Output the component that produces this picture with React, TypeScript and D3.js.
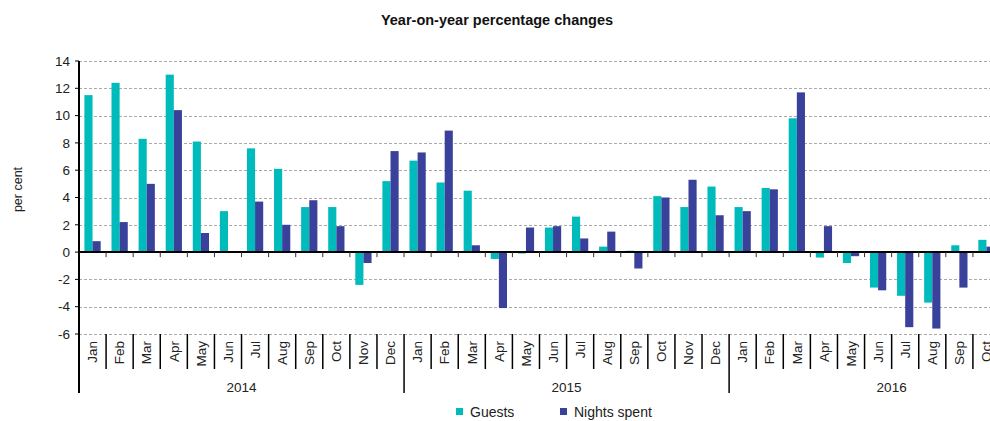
import * as d3 from "d3";
import { useEffect, useRef } from "react";

const months = ["Jan", "Feb", "Mar", "Apr", "May", "Jun", "Jul", "Aug", "Sep", "Oct", "Nov", "Dec"];
const years = ["2014", "2015", "2016"];
const categories = [
  ...months.map((m) => `${m} 2014`),
  ...months.map((m) => `${m} 2015`),
  ...months.slice(0, 10).map((m) => `${m} 2016`),
];
const guests = [
  11.5, 12.4, 8.3, 13.0, 8.1, 3.0, 7.6, 6.1, 3.3, 3.3, -2.4, 5.2,
  6.7, 5.1, 4.5, -0.5, -0.1, 1.8, 2.6, 0.4, 0.1, 4.1, 3.3, 4.8,
  3.3, 4.7, 9.8, -0.4, -0.8, -2.6, -3.2, -3.7, 0.5, 0.9,
];
const nights = [
  0.8, 2.2, 5.0, 10.4, 1.4, 0, 3.7, 2.0, 3.8, 1.9, -0.8, 7.4,
  7.3, 8.9, 0.5, -4.1, 1.8, 1.9, 1.0, 1.5, -1.2, 4.0, 5.3, 2.7,
  3.0, 4.6, 11.7, 1.9, -0.3, -2.8, -5.5, -5.6, -2.6, 0.4,
];
const yTicks = [-6, -4, -2, 0, 2, 4, 6, 8, 10, 12, 14];
const seriesNames = ["Guests", "Nights spent"];
const colors = ["#00BBBB", "#3A419A"];

const App = () => {
  const svgRef = useRef<SVGSVGElement>(null);

  useEffect(() => {
    const svg = d3.select(svgRef.current);
    svg.selectAll("*").remove();
    const width = 990;
    const margin = { top: 61, left: 79, bottom: 334 };
    const plotRight = 1000;
    const font = "'Liberation Sans', Arial, sans-serif";

    const y = d3.scaleLinear().domain([-6, 14]).range([margin.bottom, margin.top]);
    const x = d3.scaleBand().domain(categories).range([margin.left, plotRight])
      .paddingInner(0.4).paddingOuter(0.2);
    const step = x.step();
    const x1 = d3.scaleBand().domain(seriesNames).range([0, x.bandwidth()]);

    svg.append("text")
      .attr("x", 497).attr("y", 25)
      .attr("text-anchor", "middle")
      .attr("font-family", font).attr("font-size", 14.5).attr("font-weight", "bold")
      .attr("fill", "#111")
      .text("Year-on-year percentage changes");

    // gridlines
    svg.append("g").selectAll("line")
      .data(yTicks.filter((t) => t !== 0))
      .join("line")
      .attr("x1", margin.left).attr("x2", width)
      .attr("y1", (d) => Math.round(y(d)) + 0.5).attr("y2", (d) => Math.round(y(d)) + 0.5)
      .attr("stroke", "#aaa").attr("stroke-dasharray", "3,2");

    // bars
    const series = [guests, nights];
    series.forEach((vals, si) => {
      svg.append("g").selectAll("rect")
        .data(vals)
        .join("rect")
        .attr("x", (_, i) => x(categories[i])! + x1(seriesNames[si])!)
        .attr("width", x1.bandwidth())
        .attr("y", (d) => y(Math.max(0, d)))
        .attr("height", (d) => Math.abs(y(d) - y(0)))
        .attr("fill", colors[si]);
    });

    // zero line + ticks
    svg.append("line")
      .attr("x1", margin.left).attr("x2", width)
      .attr("y1", y(0)).attr("y2", y(0))
      .attr("stroke", "#000").attr("stroke-width", 2);
    svg.append("g").selectAll("line")
      .data(d3.range(1, categories.length + 1))
      .join("line")
      .attr("x1", (i) => margin.left + i * step).attr("x2", (i) => margin.left + i * step)
      .attr("y1", y(0)).attr("y2", y(0) + 5)
      .attr("stroke", "#333");

    // y axis
    svg.append("line")
      .attr("x1", margin.left).attr("x2", margin.left)
      .attr("y1", margin.top).attr("y2", 393)
      .attr("stroke", "#000").attr("stroke-width", 2);
    const yg = svg.append("g");
    yg.selectAll("line")
      .data(yTicks).join("line")
      .attr("x1", margin.left - 4).attr("x2", margin.left)
      .attr("y1", (d) => y(d)).attr("y2", (d) => y(d))
      .attr("stroke", "#000");
    yg.selectAll("text")
      .data(yTicks).join("text")
      .attr("x", margin.left - 9).attr("y", (d) => y(d)).attr("dy", "0.35em")
      .attr("text-anchor", "end")
      .attr("font-family", font).attr("font-size", 13.5).attr("fill", "#222")
      .text((d) => d);

    svg.append("text")
      .attr("transform", `translate(22,${(margin.top + margin.bottom) / 2 - 8}) rotate(-90)`)
      .attr("text-anchor", "middle")
      .attr("font-family", font).attr("font-size", 12.5).attr("fill", "#222")
      .text("per cent");

    // month labels & separators
    svg.append("g").selectAll("line")
      .data(d3.range(1, categories.length + 1))
      .join("line")
      .attr("x1", (i) => margin.left + i * step).attr("x2", (i) => margin.left + i * step)
      .attr("y1", margin.bottom).attr("y2", (i) => (i % 12 === 0 ? 393 : 369))
      .attr("stroke", "#000").attr("stroke-width", 1.5);
    svg.append("g").selectAll("text")
      .data(categories)
      .join("text")
      .attr("transform", (d) => `translate(${margin.left + categories.indexOf(d) * step + step / 2},341) rotate(-90)`)
      .attr("dy", "0.35em")
      .attr("text-anchor", "end")
      .attr("font-family", font).attr("font-size", 13.5).attr("fill", "#222")
      .text((d) => d.split(" ")[0]);
    svg.append("g").selectAll("text")
      .data(years)
      .join("text")
      .attr("x", (_, i) => margin.left + (i * 12 + 6) * step)
      .attr("y", 392)
      .attr("text-anchor", "middle")
      .attr("font-family", font).attr("font-size", 13.5).attr("fill", "#222")
      .text((d) => d);

    // legend
    const legendX = [456, 560];
    seriesNames.forEach((name, i) => {
      svg.append("rect")
        .attr("x", legendX[i]).attr("y", 408).attr("width", 7).attr("height", 7)
        .attr("fill", colors[i]);
      svg.append("text")
        .attr("x", legendX[i] + 14).attr("y", 412).attr("dy", "0.35em")
        .attr("font-family", font).attr("font-size", 14).attr("fill", "#222")
        .text(name);
    });
  }, []);

  return (
    <svg ref={svgRef} width={990} height={421}
      style={{ position: "absolute", left: 0, top: 0, display: "block", background: "#fff" }} />
  );
};

export default App;
